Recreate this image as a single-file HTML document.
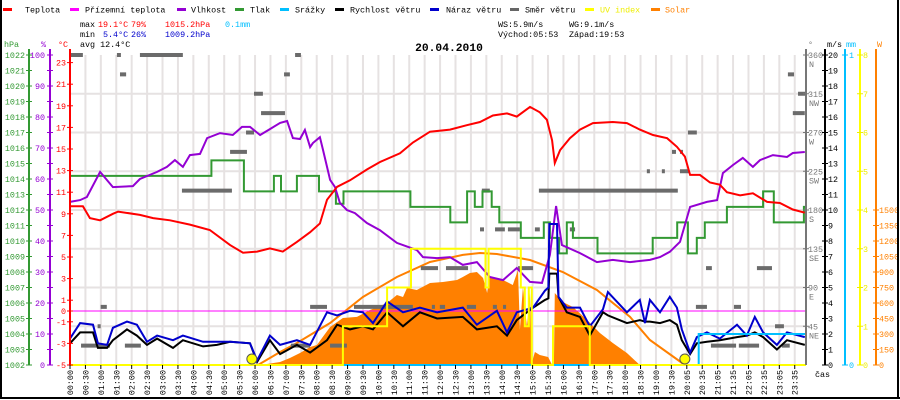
<!DOCTYPE html>
<html><head><meta charset="utf-8">
<style>
html,body{margin:0;padding:0;background:#fff;}
svg{display:block;font-family:"Liberation Mono",monospace;}
</style></head>
<body>
<svg id="chart" width="900" height="400" viewBox="0 0 900 400" xmlns="http://www.w3.org/2000/svg">
<rect x="0" y="0" width="900" height="400" fill="#fff"/>
<g id="grid"></g>
<g id="series"></g>
<g id="axes"></g>
<g id="header" font-size="8.4">
  <g>
    <g><rect x="3" y="8" width="9" height="3" fill="#f00"/><text x="25" y="12.5">Teplota</text></g>
    <g><rect x="70" y="8" width="9" height="3" fill="#f0f"/><text x="85" y="12.5">Přízemní teplota</text></g>
    <g><rect x="177" y="8" width="9" height="3" fill="#9400d3"/><text x="191" y="12.5">Vlhkost</text></g>
    <g><rect x="235" y="8" width="9" height="3" fill="#339933"/><text x="250" y="12.5">Tlak</text></g>
    <g><rect x="280" y="8" width="9" height="3" fill="#00bfff"/><text x="295" y="12.5">Srážky</text></g>
    <g><rect x="335" y="8" width="9" height="3" fill="#000"/><text x="350" y="12.5">Rychlost větru</text></g>
    <g><rect x="430" y="8" width="9" height="3" fill="#0000cc"/><text x="446" y="12.5">Náraz větru</text></g>
    <g><rect x="510" y="8" width="9" height="3" fill="#666"/><text x="525" y="12.5">Směr větru</text></g>
    <g><rect x="585" y="8" width="9" height="3" fill="#ff0"/><text x="600" y="12.5" fill="#ee0">UV index</text></g>
    <g><rect x="651" y="8" width="9" height="3" fill="#ff8000"/><text x="665" y="12.5" fill="#ff8000">Solar</text></g>
  </g>
  <g>
    <text x="80" y="27">max</text><text x="98" y="27" fill="#f00">19.1°C</text><text x="131" y="27" fill="#f00">79%</text><text x="165" y="27" fill="#f00">1015.2hPa</text><text x="225" y="27" fill="#00bfff">0.1mm</text>
    <text x="80" y="37">min</text><text x="103" y="37" fill="#0000cc">5.4°C</text><text x="131" y="37" fill="#0000cc">26%</text><text x="165" y="37" fill="#0000cc">1009.2hPa</text>
    <text x="80" y="47">avg 12.4°C</text>
    <text x="498" y="27">WS:5.9m/s</text><text x="569" y="27">WG:9.1m/s</text>
    <text x="498" y="37">Východ:05:53</text><text x="569" y="37">Západ:19:53</text>
  </g>
  <text x="449" y="51" font-size="11.3" font-weight="bold" text-anchor="middle">20.04.2010</text>
</g>
<g stroke="#000" stroke-width="2" fill="none">
  <line x1="1" y1="0" x2="1" y2="399"/><line x1="898" y1="0" x2="898" y2="399"/><line x1="0" y1="398" x2="900" y2="398"/>
</g>
</svg>
<script>
// ---------- data ----------
const timeLabels = ["00:00","00:30","01:00","01:30","02:00","02:30","03:00","03:30","04:00","04:30","05:00","05:30","06:00","06:30","07:00","07:30","08:00","08:30","09:00","09:30","10:00","10:30","11:00","11:30","12:00","12:30","13:00","13:30","14:00","14:30","15:00","15:30","16:00","16:30","17:00","17:30","18:00","18:30","19:00","19:30","20:05","20:35","21:05","21:35","22:05","22:35","23:05","23:35"];

const tempHours = [0,0.42,0.65,0.98,1.40,1.57,2.28,2.71,3.26,3.91,4.56,5.22,5.64,6.10,6.52,6.94,7.40,7.83,8.15,8.38,8.71,9.13,9.68,10.11,10.76,11.18,11.74,12.39,12.94,13.37,13.79,14.25,14.57,15.0,15.32,15.55,15.72,15.81,15.98,16.3,16.63,17.05,17.7,18.16,18.58,19.01,19.47,19.79,20.05,20.22,20.54,20.87,21.19,21.42,21.85,22.27,22.73,23.15,23.57,23.96];
const tempValues = [9.7,9.7,8.6,8.4,9.0,9.2,8.9,8.6,8.4,8.0,7.5,6.1,5.4,5.5,5.8,5.5,6.4,7.3,8.1,10.3,11.5,12.1,13.1,13.8,14.6,15.6,16.6,16.8,17.2,17.5,18.1,18.3,18.0,18.9,18.4,17.7,15.8,13.7,14.9,16.0,16.8,17.4,17.5,17.4,16.8,16.3,16.0,15.2,14.3,12.6,12.6,11.9,11.7,11.0,10.7,10.9,10.1,10.0,9.4,9.1];

const humHours = [0,0.33,0.55,0.98,1.40,2.05,2.28,2.84,3.16,3.42,3.68,3.91,4.24,4.47,4.89,5.31,5.61,5.87,6.20,6.52,6.85,7.08,7.27,7.50,7.66,7.83,7.92,8.15,8.25,8.48,8.64,8.80,9.03,9.29,9.68,10.11,10.66,11.31,11.51,11.97,12.39,12.81,13.27,13.69,14.12,14.57,15.0,15.39,15.65,15.85,16.04,16.63,17.18,17.7,18.26,18.91,19.24,19.56,19.89,20.22,20.77,21.1,21.29,21.62,21.94,22.27,22.5,22.92,23.38,23.57,23.96];
const humValues = [52.6,53.2,54.2,62.3,57.4,57.7,60.0,62.3,63.9,66.1,63.9,67.7,68.1,73.2,74.8,74.2,76.8,76.8,74.2,76.1,78.1,78.7,73.2,72.9,75.8,70.3,71.6,73.5,69.4,59.7,57.4,52.3,50.0,49.0,45.8,43.5,39.4,37.1,34.8,34.5,34.8,32.3,33.2,28.4,27.4,31.3,26.8,26.5,35.5,51.3,38.7,36.1,33.2,33.9,33.2,33.9,34.8,36.5,39.7,51.0,52.6,53.2,61.9,64.5,66.8,63.9,66.1,67.7,67.1,68.4,68.7];

const pressHours = [0,4.61,5.67,6.65,6.88,7.4,8.12,8.67,8.92,11.1,12.4,12.95,13.2,13.45,13.75,14.0,14.7,15.45,15.65,15.95,16.2,16.4,17.2,19.0,19.8,20.15,20.44,20.7,21.42,22.6,22.95,23.93,24];
const pressValues = [1014.2,1015.2,1013.2,1014.2,1013.2,1014.2,1013.2,1012.4,1013.2,1012.2,1011.2,1013.2,1012.2,1013.2,1012.2,1011.2,1010.2,1011.2,1010.2,1009.2,1011.2,1010.2,1009.2,1010.2,1011.2,1009.2,1010.2,1011.2,1012.2,1013.2,1011.2,1012.2,1012.2];

const windHours = [0,0.33,0.75,0.91,1.21,1.40,1.86,2.18,2.51,2.84,3.36,3.68,4.34,4.79,5.22,5.87,6.1,6.52,6.85,7.40,7.83,8.38,8.71,9.13,9.55,9.88,10.34,10.86,11.41,11.97,12.81,13.27,13.92,14.25,14.57,15.1,15.49,15.6,15.63,15.88,15.93,16.2,16.63,16.95,17.38,17.54,18.16,18.58,18.75,18.91,19.24,19.56,19.79,19.95,20.22,20.44,20.77,21.19,21.75,22.07,22.33,22.6,23.05,23.38,23.96];
const windSpeed = [1.4,2.1,2.1,1.1,1.1,1.6,2.3,1.9,1.3,1.7,1.1,1.6,1.2,1.3,1.5,1.4,0.2,1.6,0.7,1.3,0.8,1.6,2.6,2.3,2.5,2.3,3.4,2.5,3.4,3.0,3.1,2.3,2.5,1.9,2.9,3.7,4.2,4.3,5.9,5.9,4.4,3.4,3.1,1.9,3.4,3.2,2.7,2.9,2.8,2.8,2.7,2.9,2.6,1.6,0.7,1.4,1.5,1.6,1.8,1.9,2.1,1.8,1.0,1.6,1.3];
const windGust = [1.7,2.7,2.6,1.4,1.3,2.4,2.8,2.6,1.5,1.9,1.6,1.9,1.5,1.5,1.5,1.4,0.3,1.9,1.3,1.6,1.3,3.4,3.2,3.5,3.4,2.7,4.1,3.4,3.7,3.4,3.7,2.6,3.5,2.1,3.4,3.7,4.8,5.0,9.1,9.1,4.4,3.7,3.7,2.5,3.6,4.7,3.4,4.2,2.7,4.2,3.4,4.4,3.7,2.3,0.8,1.8,2.1,1.7,2.6,1.9,3.1,2.1,1.3,2.1,1.8];

const dirStart = [0.03,1.53,2.28,7.34,1.63,6.98,23.41,6.0,23.74,6.23,23.57,5.74,20.15,5.22,19.63,19.89,18.81,19.3,19.89,3.65,13.43,15.29,13.37,13.86,14.28,15.16,16.3,11.44,12.26,14.61,20.74,22.4,1.0,7.83,9.26,11.8,12.06,12.94,13.79,14.12,20.41,21.65,0.9,22.99,0.36,1.79,7.2,8.48,20.9,21.81,23.21];
const dirEnd   = [0.42,1.66,3.68,7.53,1.83,7.17,23.61,6.29,24.0,7.01,23.96,6.0,20.44,5.77,19.76,19.99,18.91,19.37,20.18,5.28,13.69,19.82,13.5,14.18,14.67,15.32,16.47,12.0,12.98,15.1,20.93,22.89,1.2,8.38,11.18,11.9,12.23,13.24,13.92,14.22,20.77,21.88,1.0,23.28,1.3,2.31,7.83,9.03,21.72,22.47,23.47];
const dirDeg   = [360,360,360,360,337.5,337.5,337.5,315,315,292.5,292.5,270,270,247.5,247.5,247.5,225,225,225,202.5,202.5,202.5,157.5,157.5,157.5,157.5,157.5,112.5,112.5,112.5,112.5,112.5,67.5,67.5,67.5,67.5,67.5,67.5,67.5,67.5,67.5,67.5,45,45,22.5,22.5,22.5,22.5,22.5,22.5,22.5];

const solarHours = [6.03,6.42,6.85,7.17,7.5,7.83,8.05,8.48,8.9,9.36,9.78,10.34,10.66,10.86,10.99,11.31,11.74,12.16,12.62,12.81,13.04,13.27,13.47,13.6,13.69,14.12,14.44,14.61,14.67,14.77,14.9,15.0,15.06,15.16,15.32,15.59,15.72,15.78,15.81,16.07,16.4,16.86,17.28,17.7,18.16,18.58,18.6,20.54];
const solarValues = [0,10,29,68,116,174,194,368,455,465,532,600,677,658,745,726,794,803,823,852,890,900,842,697,852,823,774,919,339,755,368,697,19,126,97,77,0,0,697,610,561,436,310,213,116,0,0,0];

const solarMaxHours = [6.13,6.85,7.4,8.48,9.55,10.66,11.74,12.81,13.37,13.92,15.0,16.07,17.18,18.26,18.91,20.05];
const solarMaxValues = [0,126,213,406,658,852,997,1065,1084,1074,1016,900,726,465,242,0];

const uvHours = [0,8.9,10.34,11.12,13.55,13.65,14.7,14.83,14.96,15.06,15.75,16.95];
const uvValues = [0,1,2,3,2,3,2,1,2,0,1,0];

const rainHours = [0,20.5];
const rainValues = [0,0.1];

const groundTemp = 0;
const sunEvents = [5.93,20.05];

// ---------- scales ----------
const X0=70, X1=806, YB=365, YT=55;
const xH = h => X0 + h*(X1-X0)/24;
const yP = p => YB - (p-1002)*15.5;
const yT = t => 311 - t*10.8;
const yHum = v => YB - v*3.1;
const yWs = v => YB - v*15.5;
const yDeg = d => YB - d*310/360;
const ySol = w => YB - w*310/3000;
const yUv = u => YB - u*38.75;
const yRain = m => YB - m*310;

const NS="http://www.w3.org/2000/svg";
function mk(tag, attrs, parent){const e=document.createElementNS(NS,tag);for(const k in attrs)e.setAttribute(k,attrs[k]);parent.appendChild(e);return e;}
const grid=document.getElementById('grid'), ser=document.getElementById('series'), ax=document.getElementById('axes');

// grid
for(let i=0;i<timeLabels.length;i++){
  const x=X0+i*15.42;
  const g=mk('line',{x1:x,y1:YT,x2:x,y2:YB,stroke:'#e6e2e2','stroke-width':2},grid);
  
  
}
for(let k=1;k<8;k++){
  const y=YB-k*38.75;
  const g=mk('line',{x1:X0,y1:y,x2:X1,y2:y,stroke:'#e6e2e2','stroke-width':2},grid);
  
  
}

function linePts(hs,vs,yf){return hs.map((h,i)=>xH(h).toFixed(1)+','+yf(vs[i]).toFixed(1)).join(' ');}
function stepPts(hs,vs,yf,end){let p=[];for(let i=0;i<hs.length;i++){const x2=i+1<hs.length?hs[i+1]:end;p.push(xH(hs[i]).toFixed(1)+','+yf(vs[i]).toFixed(1));p.push(xH(x2).toFixed(1)+','+yf(vs[i]).toFixed(1));}return p.join(' ');}

// solar area
let sp=linePts(solarHours,solarValues,ySol)+' '+xH(solarHours[solarHours.length-1]).toFixed(1)+','+YB+' '+xH(solarHours[0]).toFixed(1)+','+YB;
const solarArea=mk('polygon',{points:sp,fill:'#ff8000'},ser);


const solarMax=mk('polyline',{points:linePts(solarMaxHours,solarMaxValues,ySol),fill:'none',stroke:'#ff8000','stroke-width':2},ser);



// ground temp line
const gl=mk('line',{x1:X0,y1:yT(groundTemp),x2:X1,y2:yT(groundTemp),stroke:'#f0f','stroke-width':1},ser);



// wind direction dashes
for(let i=0;i<dirDeg.length;i++){
  const x1=xH(dirStart[i]),x2=xH(dirEnd[i]);
  const r=mk('rect',{x:x1,y:yDeg(dirDeg[i])-2,width:Math.max(3,x2-x1),height:4,fill:'#6b6b6b'},ser);
  
  
}

// pressure
const pl=mk('polyline',{points:stepPts(pressHours,pressValues,yP,24),fill:'none',stroke:'#339933','stroke-width':2},ser);


// humidity
const hl=mk('polyline',{points:linePts(humHours,humValues,yHum),fill:'none',stroke:'#9400d3','stroke-width':2},ser);


// temperature
const tl=mk('polyline',{points:linePts(tempHours,tempValues,yT),fill:'none',stroke:'#f00','stroke-width':2},ser);


// wind speed & gust
const wl=mk('polyline',{points:linePts(windHours,windSpeed,yWs),fill:'none',stroke:'#000','stroke-width':2},ser);


const gwl=mk('polyline',{points:linePts(windHours,windGust,yWs),fill:'none',stroke:'#0000cc','stroke-width':2},ser);



// bottom axis line
const bl=mk('line',{x1:X0,y1:YB,x2:X1,y2:YB,stroke:'#000','stroke-width':2},ser);


// rain
const rl=mk('polyline',{points:stepPts(rainHours,rainValues,yRain,24),fill:'none',stroke:'#00bfff','stroke-width':2},ser);


// uv
const ul=mk('polyline',{points:stepPts(uvHours,uvValues,yUv,24),fill:'none',stroke:'#ff0','stroke-width':2},ser);


// sun events
sunEvents.forEach(h=>{
  const c=mk('circle',{cx:xH(h),cy:359,r:5,fill:'#ff0',stroke:'#555','stroke-width':1},ser);
  
  
});

// ---------- axes ----------
function txt(x,y,s,fill,anchor,parent,size){const t=mk('text',{x:x,y:y,fill:fill,'font-size':size||8.4,'text-anchor':anchor||'start'},parent||ax);t.textContent=s;return t;}
function vline(x,c){mk('line',{x1:x,y1:YT-6,x2:x,y2:YB,stroke:c,'stroke-width':2},ax);}
function tick(x1,x2,y,c){mk('line',{x1:x1,y1:y,x2:x2,y2:y,stroke:c,'stroke-width':1},ax);}

// hPa
vline(29,'#339933');
txt(4,47,'hPa','#339933');
for(let p=1002;p<=1022;p++){const y=yP(p);tick(26,32,y,'#339933');const t=txt(25,y+3,String(p),'#339933','end');}
// %
vline(50,'#9400d3');
txt(41,47,'%','#9400d3');
for(let v=0;v<=100;v+=5){const y=yHum(v);tick(47,53,y,'#9400d3');if(v%10===0){const t=txt(45,y+3,String(v),'#9400d3','end');}}
// °C
vline(70,'#f00');
txt(58,47,'°C','#f00');
[23,21,19,17,15,13,11,9,7,5,3,1,0,-1,-3,-5].forEach(t=>{const y=yT(t);tick(67,73,y,'#f00');const e=txt(66,y+3,String(t),'#f00','end');});
// degrees
vline(806,'#777');
txt(808,47,'°','#777');
[[360,'N'],[315,'NW'],[270,'W'],[225,'SW'],[180,'S'],[135,'SE'],[90,'E'],[45,'NE']].forEach(d=>{const y=yDeg(d[0]);tick(803,809,y,'#777');txt(808,y+3,String(d[0]),'#777');txt(809,y+12,d[1],'#777');});
// m/s
vline(825,'#000');
txt(827,47,'m/s','#000');
for(let v=0;v<=20;v++){const y=yWs(v);tick(822,828,y,'#000');txt(828,y+3,String(v),'#000');}
// mm
vline(845,'#00bfff');
txt(846,47,'mm','#00bfff');
[0,1].forEach(v=>{const y=yRain(v);tick(842,848,y,'#00bfff');txt(849,y+3,String(v),'#00bfff');});
// uv
vline(860,'#ff0');
for(let v=0;v<=8;v++){const y=yUv(v);tick(857,863,y,'#ee0');txt(863,y+3,String(v),'#ee0');}
// W
vline(876,'#ff8000');
txt(877,47,'W','#ff8000');
for(let v=0;v<=1500;v+=150){const y=ySol(v);tick(873,879,y,'#ff8000');txt(879,y+3,String(v),'#ff8000');}

// x labels
for(let i=0;i<timeLabels.length;i++){
  const x=X0+i*15.42;
  mk('line',{x1:x,y1:YB,x2:x,y2:YB+4,stroke:'#000','stroke-width':1},ax);
  const t=mk('text',{x:0,y:0,'font-size':8.4,'text-anchor':'end',transform:'translate('+(x+3)+',370) rotate(-90)'},ax);
  t.textContent=timeLabels[i];
  
  
}
const cas=txt(815,377,'čas','#000');


</script>
</body></html>
